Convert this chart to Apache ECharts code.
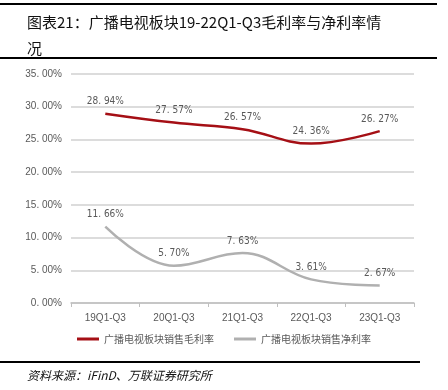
<!DOCTYPE html>
<html><head><meta charset="utf-8">
<script src="https://cdn.jsdelivr.net/npm/echarts@6/dist/echarts.min.js"></script>
<style>html,body{margin:0;padding:0;background:#fff;}#c{width:448px;height:390px;}</style>
</head><body><div id="c"></div>
<script>
var categories = ['19Q1-Q3','20Q1-Q3','21Q1-Q3','22Q1-Q3','23Q1-Q3'];
var grossMargin = [28.94, 27.57, 26.57, 24.36, 26.27];
var netMargin = [11.66, 5.70, 7.63, 3.61, 2.67];
var seriesNames = ['广播电视板块销售毛利率','广播电视板块销售净利率'];
var titleText = '图表21：广播电视板块19-22Q1-Q3毛利率与净利率情\n况';
var sourceText = '资料来源：iFinD、万联证券研究所';

var chart = echarts.init(document.getElementById('c'));
var cjk = '"Noto Sans CJK SC", sans-serif';
var lbl = {show:true, position:'top', distance:7, color:'#595959', fontSize:10, fontFamily:'"Liberation Sans Narrow","DejaVu Sans Condensed",sans-serif',
  formatter:function(p){return p.value.toFixed(2).replace('.', '. ')+'%';}};
chart.setOption({
  animation:false,
  graphic:[
    {type:'rect', shape:{x:0,y:3,width:437,height:2}, style:{fill:'#000'}},
    {type:'rect', shape:{x:0,y:57,width:437,height:2}, style:{fill:'#000'}},
    {type:'rect', shape:{x:0,y:361,width:420,height:2}, style:{fill:'#000'}},
    {type:'text', left:27, top:9, style:{text:titleText, font:'15px "Noto Sans CJK SC"', fill:'#111', lineHeight:26}},
    {type:'text', left:27, top:369, style:{text:sourceText, font:'italic 12px "Noto Sans CJK SC"', fill:'#111'}}
  ],
  grid:{left:71, right:34, top:74, bottom:87},
  legend:{bottom:41, left:'center', itemWidth:22, itemHeight:3, itemGap:20, icon:'rect',
    textStyle:{color:'#595959', fontSize:10, fontFamily:cjk}, data:seriesNames},
  xAxis:{type:'category', data:categories, boundaryGap:true,
    axisLine:{lineStyle:{color:'#bfbfbf', width:1.5}},
    axisTick:{show:true, lineStyle:{color:'#bfbfbf'}, length:4},
    axisLabel:{color:'#595959', fontSize:10, margin:10, fontFamily:'"Liberation Sans Narrow",sans-serif'}},
  yAxis:{type:'value', min:0, max:35, interval:5,
    axisLine:{show:false}, axisTick:{show:false},
    splitLine:{lineStyle:{color:'#d0d0d0', width:1.5}},
    axisLabel:{color:'#595959', fontSize:10, margin:9, fontFamily:'"Liberation Sans Narrow",sans-serif',
      formatter:function(v){return v.toFixed(2).replace('.', '. ')+'%';}}},
  series:[
    {name:seriesNames[0], type:'line', data:grossMargin, smooth:0.4, symbol:'circle', symbolSize:0, showSymbol:true,
      lineStyle:{color:'#A50F15', width:2.5}, itemStyle:{color:'#A50F15'}, label:lbl},
    {name:seriesNames[1], type:'line', data:netMargin, smooth:0.4, symbol:'circle', symbolSize:0, showSymbol:true,
      lineStyle:{color:'#B0B0B0', width:2.5}, itemStyle:{color:'#B0B0B0'}, label:lbl}
  ]
});
</script></body></html>
